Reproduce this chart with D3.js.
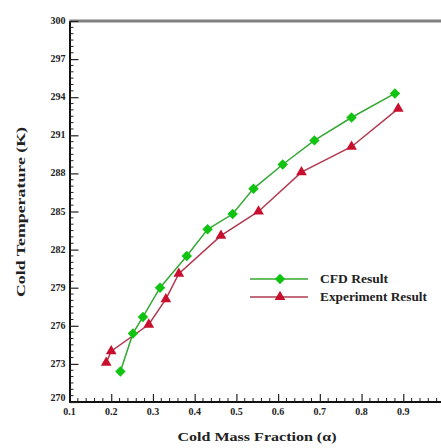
<!DOCTYPE html>
<html>
<head>
<meta charset="utf-8">
<script src="https://cdn.jsdelivr.net/npm/d3@7"></script>
<style>
  body { margin: 0; background: #fff; }
  text { font-family: "Liberation Serif", "Times New Roman", serif; font-weight: bold; }
</style>
</head>
<body>
<div id="canvas"></div>
<script>
// CFD Result (green diamonds)
var cfdX = [0.222, 0.252, 0.276, 0.317, 0.381, 0.431, 0.491, 0.541, 0.611, 0.687, 0.776, 0.880]
var cfdT = [272.4, 275.4, 276.7, 279.0, 281.5, 283.6, 284.8, 286.8, 288.7, 290.6, 292.4, 294.3]

// Experiment Result (red triangles)
var expX = [0.188, 0.200, 0.290, 0.331, 0.362, 0.463, 0.553, 0.656, 0.776, 0.888]
var expT = [273.1, 274.0, 276.1, 278.1, 280.1, 283.1, 285.0, 288.1, 290.1, 293.1]

var xTicks = [0.1, 0.2, 0.3, 0.4, 0.5, 0.6, 0.7, 0.8, 0.9]
var yTicks = [270, 273, 276, 279, 282, 285, 288, 291, 294, 297, 300]

var W = 441, H = 448

let Svg = d3.select('#canvas')
  .append('svg')
  .attr('width', W)
  .attr('height', H)

// scales
let xScale = d3.scaleLinear().domain([0.1, 1.0]).range([69.5, 445])
let yScale = d3.scaleLinear().domain([270, 300]).range([402, 21])

var x0 = xScale(0.1), y0 = yScale(270), yTop = yScale(300)

// top frame line
Svg.append('line')
  .attr('x1', x0).attr('x2', W)
  .attr('y1', yTop).attr('y2', yTop)
  .attr('stroke', '#808080').attr('stroke-width', 3)

// minor ticks
var xMinor = d3.range(0.12, 1.0, 0.02).filter(v => Math.abs(v * 10 - Math.round(v * 10)) > 0.01)
var yMinor = d3.range(270.5, 300, 0.5).filter(v => Math.abs((v - 270) % 3) > 0.01)

Svg.append('g').selectAll('line').data(xMinor).enter().append('line')
  .attr('x1', d => xScale(d)).attr('x2', d => xScale(d))
  .attr('y1', y0).attr('y2', y0 - 4)
  .attr('stroke', '#222').attr('stroke-width', 1)

Svg.append('g').selectAll('line').data(yMinor).enter().append('line')
  .attr('x1', x0).attr('x2', x0 + 4)
  .attr('y1', d => yScale(d)).attr('y2', d => yScale(d))
  .attr('stroke', '#222').attr('stroke-width', 1)

// axes, ticks pointing inward
let xAxis = d3.axisTop(xScale)
  .tickValues(xTicks)
  .tickSize(8)
  .tickFormat('')
  .tickSizeOuter(0)

let yAxis = d3.axisRight(yScale)
  .tickValues(yTicks)
  .tickSize(9)
  .tickFormat('')
  .tickSizeOuter(0)

let gx = Svg.append('g').attr('transform', 'translate(0,' + y0 + ')').call(xAxis)
let gy = Svg.append('g').attr('transform', 'translate(' + x0 + ',0)').call(yAxis)
gx.select('.domain').attr('stroke', '#111').attr('stroke-width', 2).attr('d', 'M' + x0 + ',0H' + W)
gy.select('.domain').attr('stroke', '#111').attr('stroke-width', 2)
gx.selectAll('.tick line').attr('stroke', '#222').attr('stroke-width', 1.2)
gy.selectAll('.tick line').attr('stroke', '#222').attr('stroke-width', 1.2)

// tick labels
Svg.append('g').selectAll('text').data(xTicks).enter().append('text')
  .attr('x', d => xScale(d))
  .attr('y', y0 + 13)
  .attr('text-anchor', 'middle')
  .style('font-size', '10px')
  .style('fill', '#222')
  .text(d => d.toFixed(1))

Svg.append('g').selectAll('text').data(yTicks).enter().append('text')
  .attr('x', x0 - 4)
  .attr('y', d => yScale(d) + 3 - (d === 270 ? 4 : 0))
  .attr('text-anchor', 'end')
  .style('font-size', '10px')
  .style('fill', '#222')
  .text(d => d)

// lines
var line = d3.line().x(d => xScale(d[0])).y(d => yScale(d[1]))
var cfd = cfdX.map((v, i) => [v, cfdT[i]])
var exp = expX.map((v, i) => [v, expT[i]])

Svg.append('path').datum(exp)
  .attr('d', line).attr('fill', 'none')
  .attr('stroke', '#b03a50').attr('stroke-width', 1.5)

Svg.append('path').datum(cfd)
  .attr('d', line).attr('fill', 'none')
  .attr('stroke', '#35a835').attr('stroke-width', 1.5)

var diamond = d3.symbol().type(d3.symbolDiamond2).size(70)
var tri = d3.symbol().type(d3.symbolTriangle).size(50)

Svg.append('g').selectAll('path').data(exp).enter().append('path')
  .attr('d', tri)
  .attr('transform', d => 'translate(' + xScale(d[0]) + ',' + yScale(d[1]) + ')')
  .attr('fill', '#c8102e')

Svg.append('g').selectAll('path').data(cfd).enter().append('path')
  .attr('d', diamond)
  .attr('transform', d => 'translate(' + xScale(d[0]) + ',' + yScale(d[1]) + ')')
  .attr('fill', '#12c412')

// legend
var legend = [
  { name: 'CFD Result', line: '#35a835', fill: '#12c412', sym: diamond, y: 279, w: 68 },
  { name: 'Experiment Result', line: '#b03a50', fill: '#c8102e', sym: tri, y: 297, w: 107 }
]
let lg = Svg.append('g').selectAll('g').data(legend).enter().append('g')
lg.append('line')
  .attr('x1', 250).attr('x2', 308)
  .attr('y1', d => d.y).attr('y2', d => d.y)
  .attr('stroke', d => d.line).attr('stroke-width', 1.5)
lg.append('path')
  .attr('d', d => d.sym())
  .attr('transform', d => 'translate(280,' + d.y + ')')
  .attr('fill', d => d.fill)
lg.append('text')
  .attr('x', 320).attr('y', d => d.y + 4)
  .attr('textLength', d => d.w)
  .attr('lengthAdjust', 'spacingAndGlyphs')
  .style('font-size', '12px')
  .style('fill', '#222')
  .text(d => d.name)

// axis titles
Svg.append('text')
  .attr('x', 257).attr('y', 441)
  .attr('text-anchor', 'middle')
  .attr('textLength', 159)
  .attr('lengthAdjust', 'spacingAndGlyphs')
  .style('font-size', '13.5px')
  .style('fill', '#222')
  .text('Cold Mass Fraction (α)')

Svg.append('text')
  .attr('transform', 'translate(25,' + 212 + ') rotate(-90)')
  .attr('text-anchor', 'middle')
  .attr('textLength', 170)
  .attr('lengthAdjust', 'spacingAndGlyphs')
  .style('font-size', '13.5px')
  .style('fill', '#222')
  .text('Cold Temperature (K)')
</script>
</body>
</html>
